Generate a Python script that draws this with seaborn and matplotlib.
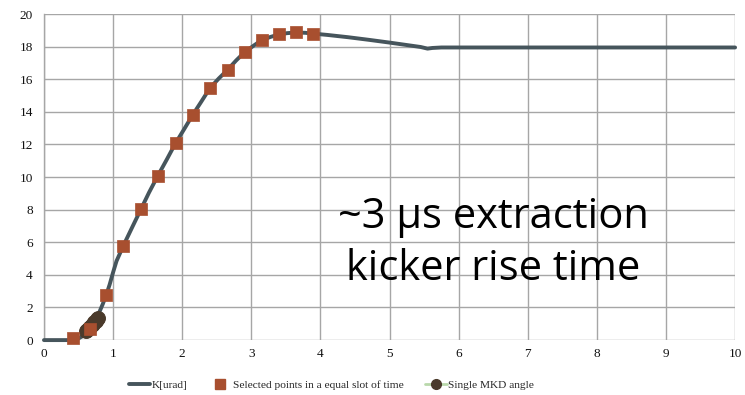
import matplotlib
matplotlib.use("Agg")
import matplotlib.pyplot as plt
import seaborn as sns
import pandas as pd
from matplotlib.lines import Line2D

# Kicker deflection K [urad] vs time [us]
k_time = [0.0, 0.40, 0.45, 0.50, 0.55, 0.60, 0.65, 0.70, 0.75, 0.80, 0.85, 0.90,
          0.95, 1.00, 1.05, 1.15, 1.28, 1.40, 1.52, 1.65, 1.78, 1.90, 2.03, 2.15,
          2.28, 2.40, 2.53, 2.65, 2.78, 2.90, 3.03, 3.15, 3.28, 3.40, 3.52, 3.65,
          3.78, 3.90, 4.10, 4.40, 4.70, 5.00, 5.25, 5.45, 5.55, 5.62, 5.75, 6.50,
          8.00, 10.0]
k_urad = [0.0, 0.0, 0.03, 0.10, 0.22, 0.40, 0.62, 0.90, 1.25, 1.70, 2.20, 2.75,
          3.40, 4.15, 4.85, 5.80, 6.95, 8.00, 9.05, 10.10, 11.10, 12.05, 12.95, 13.80,
          14.65, 15.45, 16.05, 16.55, 17.15, 17.65, 18.05, 18.40, 18.60, 18.75, 18.83, 18.87,
          18.85, 18.80, 18.72, 18.58, 18.42, 18.25, 18.10, 17.98, 17.88, 17.92, 17.95, 17.95,
          17.95, 17.95]

# Samples taken in equal time slots
sel_time = [0.42, 0.67, 0.90, 1.15, 1.40, 1.655, 1.91, 2.16, 2.40, 2.66, 2.91, 3.15,
            3.40, 3.65, 3.89]
sel_urad = [0.10, 0.67, 2.76, 5.79, 8.02, 10.08, 12.10, 13.80, 15.48, 16.56, 17.65,
            18.40, 18.75, 18.88, 18.80]

# Single MKD angle
mkd_time = [0.61, 0.63, 0.65, 0.67, 0.69, 0.71, 0.73, 0.75, 0.77, 0.78]
mkd_urad = [0.55, 0.63, 0.72, 0.81, 0.90, 0.99, 1.08, 1.17, 1.27, 1.35]

x_ticks = list(range(0, 11))
y_ticks = list(range(0, 21, 2))

k_df = pd.DataFrame({"t": k_time, "K": k_urad})
sel_df = pd.DataFrame({"t": sel_time, "K": sel_urad})
mkd_df = pd.DataFrame({"t": mkd_time, "K": mkd_urad})

sns.set_style("white")
plt.rcParams["font.family"] = ["Liberation Serif", "DejaVu Serif"]

line_col = "#46555c"
sq_col = "#a84f2f"
dot_col = "#4a3a2b"
green_col = "#b9d8ab"
grid_col = "#a6a6a6"

fig = plt.figure(figsize=(7.45, 3.95), dpi=100)
ax = fig.add_axes([0.059, 0.139, 0.9277, 0.8254])

sns.lineplot(data=k_df, x="t", y="K", ax=ax, color=line_col, linewidth=2.8,
             sort=False, zorder=3, clip_on=False)
sns.lineplot(data=mkd_df, x="t", y="K", ax=ax, color=green_col, linewidth=2,
             marker="o", markersize=10, markerfacecolor=dot_col,
             markeredgecolor=dot_col, sort=False, zorder=3.5)
sns.scatterplot(data=sel_df, x="t", y="K", ax=ax, marker="s", s=75, color=sq_col,
                edgecolor=sq_col, linewidth=0.5, zorder=4, clip_on=False)

ax.set_xlim(0, 10)
ax.set_ylim(0, 20)
ax.set_xticks(x_ticks)
ax.set_yticks(y_ticks)
ax.grid(True, color=grid_col, linewidth=1.0)
ax.set_axisbelow(True)
for side in ["top", "right", "bottom"]:
    ax.spines[side].set_visible(False)
ax.spines["left"].set_color(grid_col)
ax.spines["left"].set_linewidth(1.0)
ax.tick_params(axis="both", length=0, labelsize=9.5, colors="#111111", pad=6)
ax.tick_params(axis="y", pad=8)
ax.set_xlabel("")
ax.set_ylabel("")

ax.text(6.5, 5.95, "~3 \u03bcs extraction\nkicker rise time", ha="center",
        va="center", fontsize=30, family=["Open Sans", "DejaVu Sans"],
        linespacing=1.3, color="black", zorder=6)

handles = [
    Line2D([], [], color=line_col, linewidth=2.8),
    Line2D([], [], color=sq_col, marker="s", linestyle="none", markersize=7),
    Line2D([], [], color=green_col, linewidth=2, marker="o", markersize=7,
           markerfacecolor=dot_col, markeredgecolor=dot_col),
]
labels = ["K[urad]", "Selected points in a equal slot of time", "Single MKD angle"]
fig.legend(handles, labels, loc="center", bbox_to_anchor=(0.445, 0.026), ncol=3,
           frameon=False, fontsize=8.2, handlelength=1.9, handletextpad=0.15,
           columnspacing=1.9)

fig.savefig("out.png", dpi=100)
